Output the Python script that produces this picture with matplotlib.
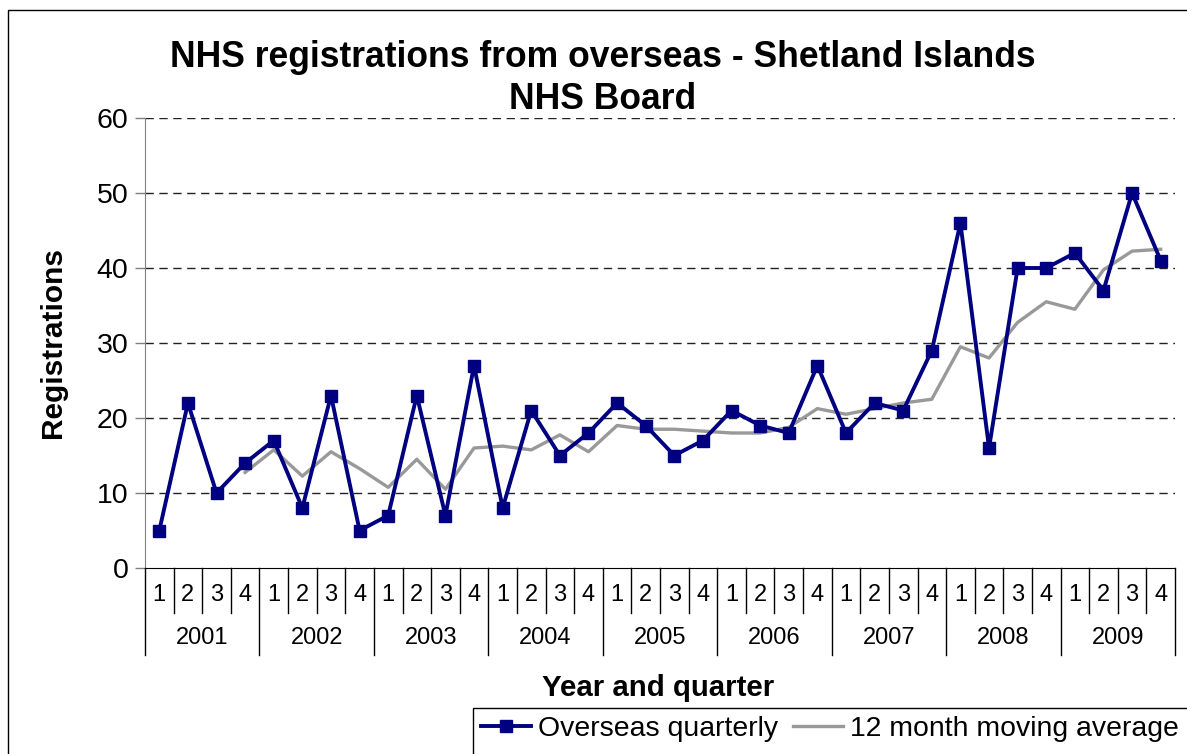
import matplotlib
matplotlib.use("Agg")
import matplotlib.pyplot as plt
import matplotlib.transforms as mtransforms
from matplotlib.patches import Rectangle

plt.rcParams['font.family'] = ['Liberation Sans', 'DejaVu Sans']

# Data
years = ['2001', '2002', '2003', '2004', '2005', '2006', '2007', '2008', '2009']
quarters = ['1', '2', '3', '4']
overseas_quarterly = [5, 22, 10, 14,
                      17, 8, 23, 5,
                      7, 23, 7, 27,
                      8, 21, 15, 18,
                      22, 19, 15, 17,
                      21, 19, 18, 27,
                      18, 22, 21, 29,
                      46, 16, 40, 40,
                      42, 37, 50, 41]
# 12 month moving average starts at the 4th quarter of 2001
moving_average = [12.75,
                  15.75, 12.25, 15.5, 13.25,
                  10.75, 14.5, 10.5, 16.0,
                  16.25, 15.75, 17.75, 15.5,
                  19.0, 18.5, 18.5, 18.25,
                  18.0, 18.0, 18.75, 21.25,
                  20.5, 21.25, 22.0, 22.5,
                  29.5, 28.0, 32.75, 35.5,
                  34.5, 39.75, 42.25, 42.5]
y_ticks = [0, 10, 20, 30, 40, 50, 60]

n = len(overseas_quarterly)
x = list(range(n))
x_ma = x[n - len(moving_average):]

W, H = 1187, 754
fig = plt.figure(figsize=(W / 100, H / 100), dpi=100)
ax = fig.add_axes([145 / W, 1 - 568 / H, 1030 / W, 450 / H])

ax.plot(x, overseas_quarterly, color='#000080', lw=2.8, marker='s',
        markersize=8, label='Overseas quarterly', zorder=3)
ax.plot(x_ma, moving_average, color='#999999', lw=2.4,
        label='12 month moving average', zorder=2)

ax.set_xlim(-0.5, n - 0.5)
ax.set_ylim(0, 60)
ax.set_yticks(y_ticks)
ax.tick_params(axis='y', labelsize=20.5, length=7, width=1, color='#808080',
               pad=5)
for t in y_ticks[1:]:
    ax.axhline(t, color='#222222', lw=1, ls=(0, (6, 4)), zorder=1)

for side in ['top', 'right']:
    ax.spines[side].set_visible(False)
ax.spines['left'].set_color('#808080')
ax.spines['bottom'].set_color('black')

# two-level category axis
ax.set_xticks([])
trans = mtransforms.blended_transform_factory(ax.transData, ax.transAxes)
for i in range(n + 1):
    b = i - 0.5
    bottom = -87 / 450 if i % 4 == 0 else -45 / 450
    ax.plot([b, b], [0, bottom], color='black', lw=1, transform=trans,
            clip_on=False)
for i in range(n):
    ax.text(i, -27 / 450, quarters[i % 4], ha='center', va='center',
            fontsize=17, transform=trans)
for j, yr in enumerate(years):
    ax.text(j * 4 + 1.5, -70 / 450, yr, ha='center', va='center',
            fontsize=17, transform=trans)

ax.set_ylabel('Registrations', fontsize=21.5, fontweight='bold')
ax.yaxis.set_label_coords(-78 / 1030, 0.5)

fig.text(603 / W, 1 - 67 / H,
         'NHS registrations from overseas - Shetland Islands',
         ha='center', va='baseline', fontsize=25.6, fontweight='bold')
fig.text(603 / W, 1 - 109 / H, 'NHS Board',
         ha='center', va='baseline', fontsize=25.6, fontweight='bold')
fig.text(658 / W, 1 - 688 / H, 'Year and quarter', ha='center',
         va='center', fontsize=21.2, fontweight='bold')

leg = fig.legend(loc='upper left', bbox_to_anchor=(481 / W, 1 - 716 / H),
                 ncol=2, fontsize=20.4, frameon=False,
                 handlelength=1.76, handletextpad=0.25, columnspacing=0.53,
                 borderaxespad=0, borderpad=0)

# legend box and outer chart border both run off the image
fig.patches.append(Rectangle((473 / W, -0.1), 1.0, 0.1 + 1 - 708 / H,
                             transform=fig.transFigure, fill=False,
                             edgecolor='black', lw=1))
fig.patches.append(Rectangle((8 / W, -0.1), 1.2, 1.1 - 10 / H,
                             transform=fig.transFigure, fill=False,
                             edgecolor='black', lw=1))

fig.savefig('out.png', dpi=100)
